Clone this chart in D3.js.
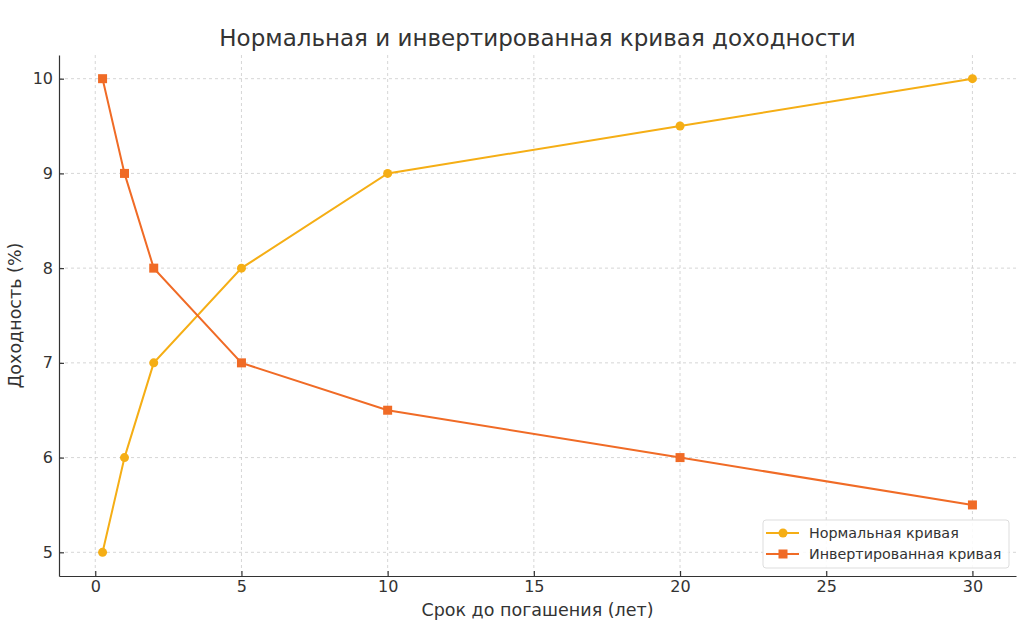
<!DOCTYPE html>
<html>
<head>
	<meta charset="utf-8">
	<title>Кривая доходности</title>
	<script src="https://cdn.jsdelivr.net/npm/d3@7"></script>
	<style>
	body{
		margin: 0;
		background: #ffffff;
		font-family: "DejaVu Sans", sans-serif;
	}
	.grid line{
		stroke: #cccccc;
		stroke-dasharray: 3,3;
		stroke-width: 0.8;
	}
	.axis text{
		fill: #333333;
		font-size: 16px;
		font-family: "DejaVu Sans", sans-serif;
	}
	.axis path, .axis line{
		stroke: #333333;
		stroke-width: 1.2;
	}
	</style>
</head>
<body>
	<div id="chart"></div>

	<script>
		// maturity in years
		var maturities = [0.25, 1, 2, 5, 10, 20, 30];
		var normalYield = [5, 6, 7, 8, 9, 9.5, 10];
		var invertedYield = [10, 9, 8, 7, 6.5, 6, 5.5];
		var xTicks = [0, 5, 10, 15, 20, 25, 30];
		var yTicks = [5, 6, 7, 8, 9, 10];
		var seriesNames = ["Нормальная кривая", "Инвертированная кривая"];

		var width = 1024, height = 634;
		var margin = {top: 55, right: 8, bottom: 58, left: 59};
		var w = width - margin.left - margin.right,
			h = height - margin.top - margin.bottom;

		var colors = ["#f5ae15", "#f06b26"];

		var svg = d3.select("#chart")
			.append("svg")
			.attr("width", width)
			.attr("height", height);

		var g = svg.append("g")
			.attr("transform", "translate(" + margin.left + "," + margin.top + ")");

		var x = d3.scaleLinear().domain([-1.24, 31.49]).range([0, w]);
		var y = d3.scaleLinear().domain([4.75, 10.25]).range([h, 0]);

		// grid
		g.append("g").attr("class", "grid")
			.selectAll("line").data(xTicks).enter().append("line")
			.attr("x1", function(d){return x(d);})
			.attr("x2", function(d){return x(d);})
			.attr("y1", 0).attr("y2", h);
		g.append("g").attr("class", "grid")
			.selectAll("line").data(yTicks).enter().append("line")
			.attr("y1", function(d){return y(d);})
			.attr("y2", function(d){return y(d);})
			.attr("x1", 0).attr("x2", w);

		// ticks point inward like the original
		var xAxis = g.append("g").attr("class", "axis")
			.attr("transform", "translate(0," + h + ")")
			.call(d3.axisBottom(x).tickValues(xTicks).tickFormat(d3.format("d")).tickSize(-5).tickPadding(5).tickSizeOuter(0));
		var yAxis = g.append("g").attr("class", "axis")
			.call(d3.axisLeft(y).tickValues(yTicks).tickFormat(d3.format("d")).tickSize(-5).tickPadding(6).tickSizeOuter(0));

		var line = function(vals){
			return d3.line()
				.x(function(d, i){return x(maturities[i]);})
				.y(function(d){return y(d);})(vals);
		};

		var series = [normalYield, invertedYield];

		series.forEach(function(vals, s){
			g.append("path")
				.attr("d", line(vals))
				.attr("fill", "none")
				.attr("stroke", colors[s])
				.attr("stroke-width", 2);
			if(s == 0){
				g.selectAll(".pt" + s).data(vals).enter().append("circle")
					.attr("cx", function(d, i){return x(maturities[i]);})
					.attr("cy", function(d){return y(d);})
					.attr("r", 4.5)
					.attr("fill", colors[s]);
			} else{
				g.selectAll(".pt" + s).data(vals).enter().append("rect")
					.attr("x", function(d, i){return x(maturities[i]) - 4.5;})
					.attr("y", function(d){return y(d) - 4.5;})
					.attr("width", 9).attr("height", 9)
					.attr("fill", colors[s]);
			}
		});

		// title and labels
		svg.append("text")
			.attr("x", margin.left + w / 2)
			.attr("y", 46)
			.attr("text-anchor", "middle")
			.attr("fill", "#333333")
			.attr("font-size", "23px")
			.text("Нормальная и инвертированная кривая доходности");

		svg.append("text")
			.attr("x", margin.left + w / 2)
			.attr("y", 616)
			.attr("text-anchor", "middle")
			.attr("fill", "#333333")
			.attr("font-size", "17.5px")
			.text("Срок до погашения (лет)");

		svg.append("text")
			.attr("transform", "translate(21," + (margin.top + h / 2) + ") rotate(-90)")
			.attr("text-anchor", "middle")
			.attr("fill", "#333333")
			.attr("font-size", "17.5px")
			.text("Доходность (%)");

		// legend
		var lg = svg.append("g").attr("transform", "translate(763,520)");
		lg.append("rect")
			.attr("width", 246).attr("height", 48)
			.attr("rx", 3)
			.attr("fill", "#ffffff")
			.attr("fill-opacity", 0.85)
			.attr("stroke", "#dddddd");
		seriesNames.forEach(function(name, s){
			var ly = 13 + s * 21;
			lg.append("line")
				.attr("x1", 3).attr("x2", 36)
				.attr("y1", ly).attr("y2", ly)
				.attr("stroke", colors[s]).attr("stroke-width", 2);
			if(s == 0){
				lg.append("circle").attr("cx", 20).attr("cy", ly).attr("r", 4.5).attr("fill", colors[s]);
			} else{
				lg.append("rect").attr("x", 15.5).attr("y", ly - 4.5).attr("width", 9).attr("height", 9).attr("fill", colors[s]);
			}
			lg.append("text")
				.attr("x", 46).attr("y", ly + 5)
				.attr("fill", "#333333")
				.attr("font-size", "14.3px")
				.text(name);
		});
	</script>
</body>
</html>
